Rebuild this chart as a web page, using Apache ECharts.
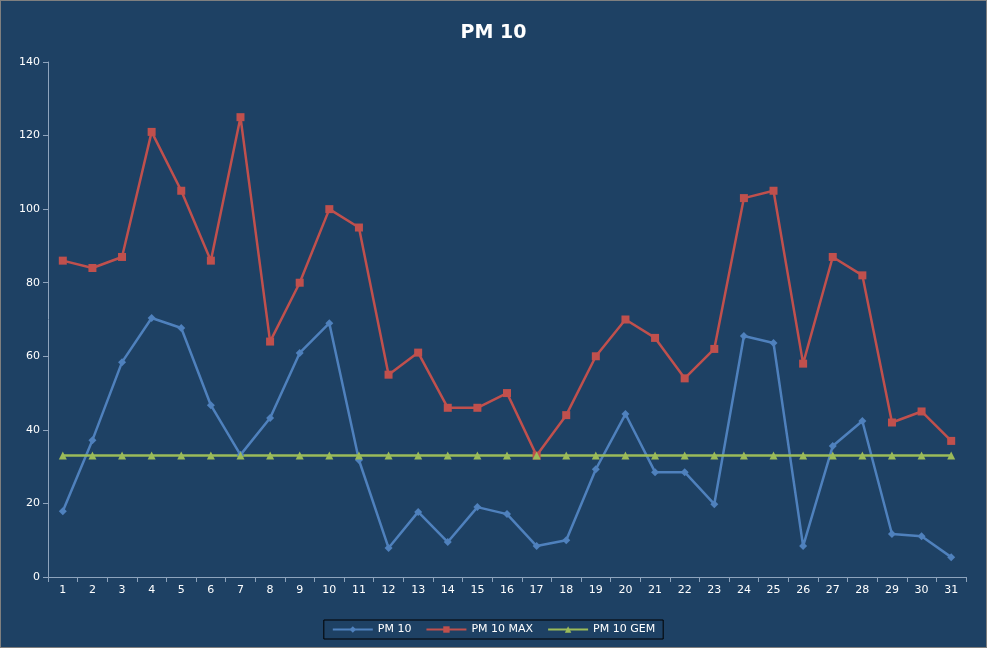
<!DOCTYPE html>
<html>
<head>
<meta charset="utf-8">
<script src="https://cdn.jsdelivr.net/npm/echarts@6/dist/echarts.min.js"></script>
<style>
html,body{margin:0;padding:0;background:#fff;}
#chart{width:985px;height:646px;border:1px solid #7f7f7f;}
</style>
</head>
<body>
<div id="chart"></div>
<script>
// days of the month
const days = Array.from({length: 31}, (_, i) => String(i + 1));
// PM 10 daily average
const pm10 = [17.9, 37.2, 58.4, 70.4, 67.7, 46.7, 33.2, 43.2, 60.9, 69, 31.8, 7.9, 17.7, 9.5, 19, 17.1,
    8.4, 10, 29.3, 44.3, 28.5, 28.5, 19.8, 65.5, 63.6, 8.4, 35.6, 42.4, 11.7, 11.1, 5.4];
// PM 10 daily maximum
const pm10Max = [86, 84, 87, 121, 105, 86, 125, 64, 80, 100, 95, 55, 61, 46, 46, 50,
    33, 44, 60, 70, 65, 54, 62, 103, 105, 58, 87, 82, 42, 45, 37];
// PM 10 monthly mean
const pm10Gem = days.map(() => 33);

const chart = echarts.init(document.getElementById('chart'));
const axisColor = '#8ea4bd';
const txt = '#ffffff';
chart.setOption({
    backgroundColor: '#1e4164',
    textStyle: {fontFamily: 'DejaVu Sans'},
    title: {
        text: 'PM 10', left: 'center', top: 18,
        textStyle: {color: txt, fontSize: 19, fontWeight: 'bold'}
    },
    legend: {
        bottom: 8, left: 'center',
        itemWidth: 40, itemHeight: 8, itemGap: 14,
        borderColor: '#000', borderWidth: 1, padding: [4, 8],
        textStyle: {color: txt, fontSize: 11}
    },
    grid: {left: 47, right: 20, top: 61, bottom: 70},
    xAxis: {
        type: 'category', data: days, boundaryGap: true,
        axisLine: {lineStyle: {color: axisColor}},
        axisTick: {show: true, lineStyle: {color: axisColor}},
        axisLabel: {color: txt, fontSize: 11}
    },
    yAxis: {
        type: 'value', min: 0, max: 140, interval: 20,
        axisLine: {show: true, lineStyle: {color: axisColor}},
        axisTick: {show: true, lineStyle: {color: axisColor}},
        splitLine: {show: false},
        axisLabel: {color: txt, fontSize: 11}
    },
    series: [
        {name: 'PM 10', type: 'line', data: pm10, symbol: 'diamond', symbolSize: 8,
            itemStyle: {color: '#4f81bd'}, lineStyle: {width: 2.5, color: '#4f81bd'}},
        {name: 'PM 10 MAX', type: 'line', data: pm10Max, symbol: 'rect', symbolSize: 8,
            itemStyle: {color: '#c0504d'}, lineStyle: {width: 2.5, color: '#c0504d'}},
        {name: 'PM 10 GEM', type: 'line', data: pm10Gem, symbol: 'triangle', symbolSize: 8,
            itemStyle: {color: '#9bbb59'}, lineStyle: {width: 2.5, color: '#9bbb59'}}
    ]
});
</script>
</body>
</html>
